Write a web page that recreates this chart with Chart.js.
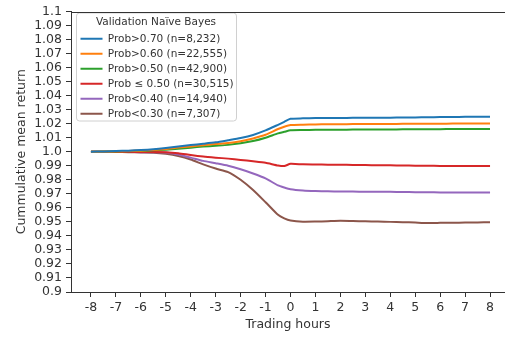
<!DOCTYPE html>
<html>
<head>
<meta charset="utf-8">
<script src="https://cdn.jsdelivr.net/npm/chart.js@4"></script>
<style>
html,body{margin:0;padding:0;background:#fff;overflow:hidden;}
#wrap{width:505px;height:338px;position:relative;}
</style>
</head>
<body>
<div id="wrap"><canvas id="c" width="505" height="338"></canvas></div>
<script>
const hours = [-8,-7.5,-7,-6.5,-6,-5.5,-5,-4.5,-4,-3.5,-3,-2.5,-2,-1.5,-1,-0.5,-0.25,0,0.5,1,1.5,2,2.5,3,3.5,4,4.5,5,5.5,6,6.5,7,7.5,8];

const prob70 = [1.0000,1.0002,1.0005,1.0008,1.0012,1.0018,1.0027,1.0038,1.0048,1.0057,1.0067,1.0082,1.0098,1.0120,1.0152,1.0192,1.0213,1.0235,1.0238,1.0240,1.0241,1.0241,1.0242,1.0242,1.0243,1.0243,1.0244,1.0245,1.0246,1.0247,1.0248,1.0249,1.0250,1.0250];
const prob60 = [1.0000,1.0001,1.0003,1.0005,1.0008,1.0013,1.0020,1.0030,1.0038,1.0047,1.0055,1.0062,1.0075,1.0095,1.0121,1.0162,1.0178,1.0190,1.0193,1.0195,1.0196,1.0196,1.0197,1.0197,1.0198,1.0198,1.0199,1.0199,1.0200,1.0200,1.0201,1.0201,1.0202,1.0202];
const prob50 = [1.0000,1.0001,1.0002,1.0004,1.0006,1.0010,1.0015,1.0022,1.0029,1.0037,1.0043,1.0049,1.0060,1.0076,1.0100,1.0131,1.0142,1.0153,1.0155,1.0156,1.0157,1.0157,1.0158,1.0158,1.0159,1.0159,1.0160,1.0160,1.0161,1.0161,1.0162,1.0162,1.0163,1.0163];
const probLe50 = [1.0000,1.0000,0.9999,0.9999,0.9998,0.9998,0.9997,0.9990,0.9977,0.9966,0.9958,0.9951,0.9942,0.9932,0.9921,0.9902,0.9898,0.9914,0.9910,0.9909,0.9908,0.9907,0.9906,0.9905,0.9904,0.9903,0.9902,0.9901,0.9900,0.9899,0.9899,0.9898,0.9898,0.9898];
const prob40 = [1.0000,1.0000,0.9999,0.9998,0.9997,0.9996,0.9995,0.9980,0.9958,0.9935,0.9918,0.9900,0.9875,0.9845,0.9810,0.9760,0.9745,0.9733,0.9724,0.9720,0.9718,0.9717,0.9716,0.9715,0.9714,0.9714,0.9713,0.9712,0.9711,0.9710,0.9710,0.9709,0.9709,0.9709];
const prob30 = [1.0000,0.9999,0.9998,0.9997,0.9995,0.9993,0.9985,0.9970,0.9945,0.9910,0.9880,0.9855,0.9800,0.9727,0.9640,0.9550,0.9525,0.9510,0.9501,0.9502,0.9505,0.9508,0.9506,0.9504,0.9502,0.9500,0.9498,0.9495,0.9492,0.9493,0.9494,0.9495,0.9496,0.9497];

const seriesNames = ['Prob>0.70 (n=8,232)','Prob>0.60 (n=22,555)','Prob>0.50 (n=42,900)','Prob \u2264 0.50 (n=30,515)','Prob<0.40 (n=14,940)','Prob<0.30 (n=7,307)'];
const seriesColors = ['#1f77b4','#ff7f0e','#2ca02c','#d62728','#9467bd','#8c564b'];
const seriesValues = [prob70, prob60, prob50, probLe50, prob40, prob30];

const xTicks = [-8,-7,-6,-5,-4,-3,-2,-1,0,1,2,3,4,5,6,7,8];
const xTickLabels = ['-8','-7','-6','-5','-4','-3','-2','-1','0','1','2','3','4','5','6','7','8'];
const yTicks = [0.90,0.91,0.92,0.93,0.94,0.95,0.96,0.97,0.98,0.99,1.00,1.01,1.02,1.03,1.04,1.05,1.06,1.07,1.08,1.09,1.10];
const yTickLabels = ['0.9','0.91','0.92','0.93','0.94','0.95','0.96','0.97','0.98','0.99','1.0','1.01','1.02','1.03','1.04','1.05','1.06','1.07','1.08','1.09','1.1'];

const legendTitle = 'Validation Na\u00efve Bayes';
const xTitle = 'Trading hours';
const yTitle = 'Cummulative mean return';

const FONT = 'DejaVu Sans';
const axisColor = '#333';
const textColor = '#333';

const datasets = seriesValues.map((vals, i) => ({
  label: seriesNames[i],
  data: hours.map((h, j) => ({x: h, y: vals[j]})),
  borderColor: seriesColors[i],
  backgroundColor: seriesColors[i],
  borderWidth: 2,
  pointRadius: 0,
  tension: 0.2,
  fill: false
}));

const legendPlacer = {
  id: 'legendPlacer',
  afterLayout(chart) {
    const lg = chart.legend;
    const ca = chart.chartArea;
    lg.left = ca.left + 5;
    lg.top = ca.top + 1;
    lg.width = 160;
    lg.height = 108;
  },
  beforeDraw(chart) {
    const lg = chart.legend;
    const ctx = chart.ctx;
    const x = lg.left + 0.5, y = lg.top + 0.5, w = lg.width, h = lg.height;
    const r = 3;
    ctx.save();
    ctx.beginPath();
    ctx.moveTo(x + r, y);
    ctx.lineTo(x + w - r, y); ctx.quadraticCurveTo(x + w, y, x + w, y + r);
    ctx.lineTo(x + w, y + h - r); ctx.quadraticCurveTo(x + w, y + h, x + w - r, y + h);
    ctx.lineTo(x + r, y + h); ctx.quadraticCurveTo(x, y + h, x, y + h - r);
    ctx.lineTo(x, y + r); ctx.quadraticCurveTo(x, y, x + r, y);
    ctx.closePath();
    ctx.fillStyle = 'rgba(255,255,255,0.8)';
    ctx.fill();
    ctx.strokeStyle = '#d0d0d0';
    ctx.lineWidth = 1;
    ctx.stroke();
    ctx.restore();
  },
  afterDraw(chart) {
    const ca = chart.chartArea;
    const ctx = chart.ctx;
    ctx.save();
    ctx.strokeStyle = axisColor;
    ctx.lineWidth = 1;
    ctx.beginPath();
    ctx.moveTo(ca.left, Math.round(ca.top) + 0.5);
    ctx.lineTo(ca.right + 5, Math.round(ca.top) + 0.5);
    ctx.stroke();
    ctx.restore();
  }
};

new Chart(document.getElementById('c'), {
  type: 'line',
  data: { datasets },
  options: {
    responsive: false,
    animation: false,
    devicePixelRatio: 1,
    layout: { padding: { left: 0, top: 8, right: 0, bottom: 0 } },
    plugins: {
      tooltip: { enabled: false },
      legend: {
        position: 'chartArea',
        align: 'start',
        labels: {
          usePointStyle: true,
          pointStyle: 'line',
          pointStyleWidth: 22,
          boxHeight: 10.5,
          padding: 4.5,
          color: textColor,
          font: { family: FONT, size: 10.5 }
        },
        title: {
          display: true,
          text: legendTitle,
          color: textColor,
          font: { family: FONT, size: 10.5 },
          padding: { top: 5, bottom: -1 }
        }
      }
    },
    scales: {
      x: {
        type: 'linear',
        min: -8.8,
        max: 8.6,
        afterBuildTicks(scale) { scale.ticks = xTicks.map(v => ({ value: v })); },
        afterFit(scale) { scale.height = 46; },
        ticks: {
          padding: 3,
          color: textColor,
          font: { family: FONT, size: 12.5 },
          maxRotation: 0,
          autoSkip: false,
          callback(v) { const i = xTicks.indexOf(v); return i >= 0 ? xTickLabels[i] : ''; }
        },
        grid: { display: true, drawOnChartArea: false, drawTicks: true, tickLength: 5, color: axisColor },
        border: { display: true, color: axisColor, width: 1 },
        title: { display: true, text: xTitle, color: textColor, font: { family: FONT, size: 12.5 }, padding: { top: 0, bottom: 6 } }
      },
      y: {
        type: 'linear',
        min: 0.9,
        max: 1.1,
        afterBuildTicks(scale) { scale.ticks = yTicks.map(v => ({ value: v })); },
        afterFit(scale) { scale.width = 71; },
        ticks: {
          padding: 4,
          color: textColor,
          font: { family: FONT, size: 12.5 },
          autoSkip: false,
          callback(v) {
            const i = yTicks.findIndex(t => Math.abs(t - v) < 1e-9);
            return i >= 0 ? yTickLabels[i] : '';
          }
        },
        grid: { display: true, drawOnChartArea: false, drawTicks: true, tickLength: 5, color: axisColor },
        border: { display: true, color: axisColor, width: 1 },
        title: { display: true, text: yTitle, color: textColor, font: { family: FONT, size: 12.5 }, padding: { top: 14, bottom: 0 } }
      }
    }
  },
  plugins: [legendPlacer]
});
</script>
</body>
</html>
